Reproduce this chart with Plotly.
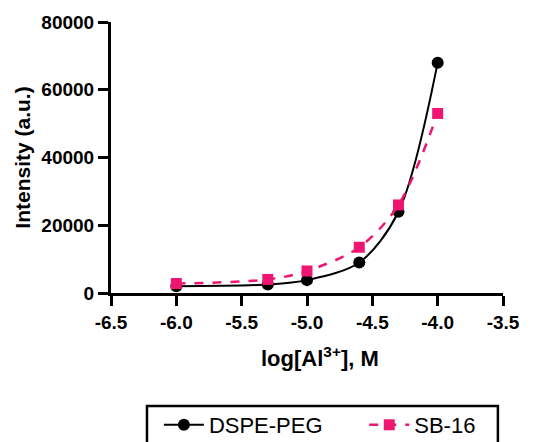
import plotly.graph_objects as go

log_conc = [-6.0, -5.3, -5.0, -4.6, -4.3, -4.0]
dspe_peg = [2000, 2500, 3800, 9000, 24000, 68000]
sb16 = [2800, 4000, 6500, 13500, 26000, 53000]
series_names = ["DSPE-PEG", "SB-16"]

x_ticks = [-6.5, -6.0, -5.5, -5.0, -4.5, -4.0, -3.5]
x_ticklabels = ["-6.5", "-6.0", "-5.5", "-5.0", "-4.5", "-4.0", "-3.5"]
y_ticks = [0, 20000, 40000, 60000, 80000]
y_ticklabels = ["0", "20000", "40000", "60000", "80000"]

PINK = "#EE1670"
FONT = "Liberation Sans, Arial, sans-serif"
PAD = "\u00a0" * 6

fig = go.Figure()
fig.add_trace(go.Scatter(
    x=log_conc, y=dspe_peg, name=series_names[0] + PAD,
    mode="lines+markers",
    line=dict(color="black", width=2, shape="spline", smoothing=0.9),
    marker=dict(symbol="circle", size=12, color="black"),
))
fig.add_trace(go.Scatter(
    x=log_conc, y=sb16, name=series_names[1],
    mode="lines+markers",
    line=dict(color=PINK, width=2.5, dash="dash", shape="spline", smoothing=0.9),
    marker=dict(symbol="square", size=11, color=PINK),
))

# legend frame
fig.add_shape(type="rect", xref="paper", yref="paper",
              x0=0.0918, x1=0.987, y0=-0.417, y1=-0.60,
              line=dict(color="black", width=2.5), fillcolor="rgba(0,0,0,0)")

fig.add_annotation(text="<b>log[Al<sup>3+</sup>], M</b>", xref="paper", yref="paper",
                   x=0.533, y=-0.236, xanchor="center", yanchor="middle",
                   showarrow=False, font=dict(size=22, family=FONT, color="black"))

fig.update_layout(
    width=546, height=442,
    margin=dict(l=111, r=43, t=22, b=149, autoexpand=False),
    paper_bgcolor="white", plot_bgcolor="white",
    font=dict(family=FONT, color="black"),
    showlegend=True,
    legend=dict(
        orientation="h", xref="container", x=0.291, xanchor="left",
        yref="container", y=0.086, yanchor="top",
        borderwidth=0, bgcolor="rgba(0,0,0,0)",
        font=dict(size=22, family=FONT, color="black"),
        itemwidth=40,
    ),
)
fig.update_xaxes(
    range=[-6.5, -3.5], tickvals=x_ticks, ticktext=x_ticklabels,
    showline=True, linecolor="black", linewidth=3,
    ticks="outside", ticklen=10, tickwidth=3, tickcolor="black",
    showgrid=False, zeroline=False,
    tickfont=dict(size=19, weight="bold", family=FONT),
)
fig.update_yaxes(
    range=[0, 80000], tickvals=y_ticks, ticktext=y_ticklabels,
    showline=True, linecolor="black", linewidth=3,
    ticks="outside", ticklen=10, tickwidth=3, tickcolor="black",
    showgrid=False, zeroline=False,
    tickfont=dict(size=19, weight="bold", family=FONT),
    title=dict(text="Intensity (a.u.)", font=dict(size=21, weight="bold", family=FONT), standoff=6),
)

fig.write_html("out.html")
